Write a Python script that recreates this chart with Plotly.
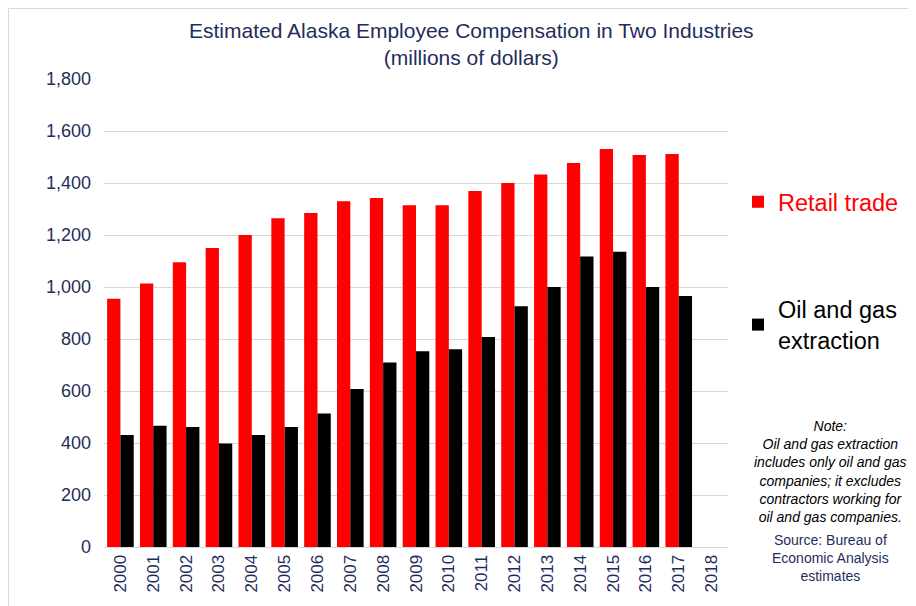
import plotly.graph_objects as go

years = [str(y) for y in range(2000, 2019)]
retail = [955, 1013, 1095, 1150, 1200, 1264, 1285, 1330, 1342, 1314,
          1314, 1369, 1400, 1433, 1477, 1531, 1508, 1512, None]
oilgas = [431, 466, 462, 398, 431, 462, 513, 608, 710, 753,
          761, 808, 926, 1000, 1117, 1136, 1000, 965, None]

navy = "#1F2D5C"
FONT = "Liberation Sans, Arial, sans-serif"

# page has an 8px body margin, so figure coords = screen coords - 8
OFF = 8
W, H = 916, 606
L, T = 104 - OFF, 79 - OFF
R = W - (728 - OFF)
B = H - (547 - OFF)
PW, PH = 624, 468

def px(xs):
    return (xs - 104) / PW

def py(ys):
    return (547 - ys) / PH

fig = go.Figure()
fig.add_trace(go.Bar(x=years, y=retail, name="<span style='color:#FF0000'>Retail trade</span>",
                     marker=dict(color="#FF0000", line=dict(width=0)),
                     legendgroup="a"))
fig.add_trace(go.Bar(x=years, y=oilgas, name="Oil and gas<br>extraction",
                     marker=dict(color="#000000", line=dict(width=0)),
                     legendgroup="b"))

annotations = [
    dict(text="Estimated Alaska Employee Compensation in Two Industries<br>(millions of dollars)",
         x=px(471), y=py(44), xref="paper", yref="paper", showarrow=False,
         font=dict(size=21, color=navy, family=FONT), xanchor="center", yanchor="middle"),
    dict(text="<i>Note:<br>Oil and gas extraction<br>includes only oil and gas<br>companies; it excludes<br>contractors working for<br>oil and gas companies.</i>",
         x=px(830), y=py(471), xref="paper", yref="paper", showarrow=False,
         font=dict(size=14, color="#000000", family=FONT), xanchor="center", yanchor="middle",
         align="center"),
    dict(text="Source: Bureau of<br>Economic Analysis<br>estimates",
         x=px(830), y=py(558), xref="paper", yref="paper", showarrow=False,
         font=dict(size=14, color=navy, family=FONT), xanchor="center", yanchor="middle",
         align="center"),
]

shapes = [
    dict(type="rect", xref="paper", yref="paper", x0=px(8.5), x1=px(W + 20), y0=py(H + 20), y1=py(8.5),
         line=dict(color="#D9D9D9", width=1), fillcolor="rgba(0,0,0,0)", layer="below"),
]

fig.update_layout(
    width=W, height=H,
    margin=dict(l=L, r=R, t=T, b=B),
    paper_bgcolor="white", plot_bgcolor="white",
    barmode="group", bargap=0.19, bargroupgap=0,
    font=dict(family=FONT, color=navy),
    showlegend=True,
    legend=dict(x=px(738), y=py(180), xanchor="left", yanchor="top",
                traceorder="grouped", tracegroupgap=74,
                font=dict(size=23.5, color="#000000", family=FONT),
                bgcolor="rgba(0,0,0,0)"),
    xaxis=dict(type="category", tickangle=-90, tickfont=dict(size=17, color=navy),
               showline=True, linecolor="#D9D9D9", linewidth=1, ticks="", showgrid=False),
    yaxis=dict(range=[0, 1800], dtick=200, tickformat=",", tickfont=dict(size=18, color=navy),
               showgrid=True, gridcolor="#D9D9D9", gridwidth=1, zeroline=False,
               showline=False, ticks="", ticklabelstandoff=12),
    annotations=annotations,
    shapes=shapes,
)

fig.write_html("out.html")
